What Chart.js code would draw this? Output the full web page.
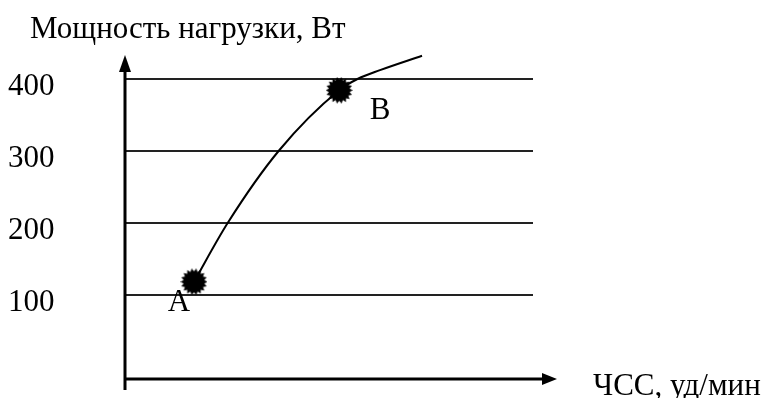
<!DOCTYPE html>
<html>
<head>
<meta charset="utf-8">
<script src="https://cdn.jsdelivr.net/npm/chart.js@4.4.1/dist/chart.umd.min.js"></script>
<style>
  html, body { margin: 0; padding: 0; background: #fff; }
  #wrap { width: 769px; height: 398px; }
</style>
</head>
<body>
<div id="wrap"><canvas id="chart" width="769" height="398"></canvas></div>
<script>
// curve (heart rate in arbitrary units, load in W)
const hrValues = [16.9, 25.2, 37.7, 52.5, 57.1, 62.5, 72.8];
const powerValues = [118, 200, 300, 384, 400, 412, 432];

// marked points
const pointNames = ['A', 'B'];
const pointHr = [16.9, 52.5];
const pointPower = [118, 384];

const yTicks = [100, 200, 300, 400];
const yTitle = 'Мощность нагрузки, Вт';
const xTitle = 'ЧСС, уд/мин';

const FONT = '"Liberation Serif", "Times New Roman", serif';

// starburst marker
function makeBurst(size, spikes) {
  const c = document.createElement('canvas');
  c.width = size; c.height = size;
  const g = c.getContext('2d');
  const r1 = size / 2, r2 = size / 2 - 3;
  g.beginPath();
  for (let i = 0; i < spikes * 2; i++) {
    const r = i % 2 === 0 ? r1 : r2;
    const a = Math.PI * i / spikes;
    g.lineTo(size / 2 + r * Math.cos(a), size / 2 + r * Math.sin(a));
  }
  g.closePath();
  g.fillStyle = '#000';
  g.fill();
  return c;
}
const burst = makeBurst(27, 18);

const decor = {
  id: 'decor',
  afterDraw(chart) {
    const ctx = chart.ctx;
    const a = chart.chartArea;
    ctx.save();
    ctx.strokeStyle = '#000';
    ctx.fillStyle = '#000';
    ctx.lineWidth = 3;
    // y axis with arrow
    ctx.beginPath();
    ctx.moveTo(a.left, a.bottom + 11);
    ctx.lineTo(a.left, a.top + 16);
    ctx.stroke();
    ctx.beginPath();
    ctx.moveTo(a.left, a.top);
    ctx.lineTo(a.left - 6, a.top + 17);
    ctx.lineTo(a.left + 6, a.top + 17);
    ctx.closePath();
    ctx.fill();
    // x axis with arrow
    const xr = a.right + 24;
    ctx.beginPath();
    ctx.moveTo(a.left, a.bottom);
    ctx.lineTo(xr - 14, a.bottom);
    ctx.stroke();
    ctx.beginPath();
    ctx.moveTo(xr, a.bottom);
    ctx.lineTo(xr - 15, a.bottom - 6);
    ctx.lineTo(xr - 15, a.bottom + 6);
    ctx.closePath();
    ctx.fill();

    ctx.font = '31px ' + FONT;
    ctx.textBaseline = 'alphabetic';
    ctx.textAlign = 'left';
    ctx.fillText(yTitle, 30, 38);
    ctx.fillText(xTitle, xr + 36, 395);

    // point names
    const meta = chart.getDatasetMeta(1);
    meta.data.forEach((p, i) => {
      const dx = i === 0 ? -15 : 41;
      ctx.textAlign = 'center';
      ctx.fillText(pointNames[i], p.x + dx, p.y + 29);
    });
    ctx.restore();
  }
};

new Chart(document.getElementById('chart'), {
  type: 'scatter',
  data: {
    datasets: [
      {
        data: hrValues.map((x, i) => ({ x: x, y: powerValues[i] })),
        showLine: true,
        borderColor: '#000',
        borderWidth: 2,
        pointRadius: 0,
        cubicInterpolationMode: 'monotone',
        clip: false
      },
      {
        data: pointHr.map((x, i) => ({ x: x, y: pointPower[i] })),
        pointStyle: burst,
        pointRadius: 13,
        clip: false
      }
    ]
  },
  options: {
    responsive: false,
    animation: false,
    events: [],
    layout: { padding: { left: 8, top: 55, right: 236, bottom: 19 } },
    plugins: { legend: { display: false }, tooltip: { enabled: false } },
    scales: {
      x: { type: 'linear', min: 0, max: 100, display: false },
      y: {
        type: 'linear',
        min: -17,
        max: 433,
        afterBuildTicks(scale) {
          scale.ticks = yTicks.map(v => ({ value: v }));
        },
        afterFit(scale) { scale.width = 117; },
        border: { display: false },
        grid: { color: '#222', lineWidth: 2, drawTicks: false },
        ticks: {
          color: '#000',
          font: { family: FONT, size: 31 },
          crossAlign: 'far',
          padding: 0,
          labelOffset: 8
        }
      }
    }
  },
  plugins: [decor]
});
</script>
</body>
</html>
